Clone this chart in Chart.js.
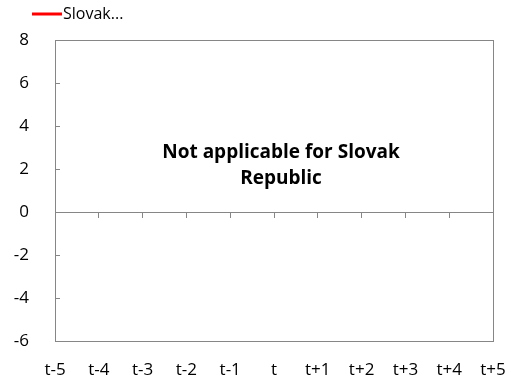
<!DOCTYPE html>
<html>
<head>
<meta charset="utf-8">
<script src="https://cdn.jsdelivr.net/npm/chart.js@4/dist/chart.umd.min.js"></script>
<style>
  html, body { margin: 0; padding: 0; background: #fff; }
  #wrap { width: 510px; height: 379px; }
</style>
</head>
<body>
<div id="wrap"><canvas id="chart" width="510" height="379"></canvas></div>
<script>
var periods = ['t-5', 't-4', 't-3', 't-2', 't-1', 't', 't+1', 't+2', 't+3', 't+4', 't+5'];
// no data for this country
var slovakValues = [null, null, null, null, null, null, null, null, null, null, null];
var seriesName = 'Slovak...';
var noteLines = ['Not applicable for Slovak', 'Republic'];
var yMin = -6, yMax = 8, yStep = 2;

var axisColor = '#868686';
var fontFamily = "'Open Sans', 'Noto Sans', sans-serif";

// box round the plot, inner y ticks, the note and the legend entry
var framePlugin = {
    id: 'frame',
    afterDraw: function (chart) {
        var a = chart.chartArea;
        var ctx = chart.ctx;
        var y = chart.scales.y;
        ctx.save();
        ctx.strokeStyle = axisColor;
        ctx.lineWidth = 1;
        ctx.strokeRect(Math.round(a.left) + 0.5, Math.round(a.top) + 0.5,
            Math.round(a.right - a.left), Math.round(a.bottom - a.top));

        ctx.beginPath();
        y.ticks.forEach(function (t, i) {
            var py = Math.round(y.getPixelForTick(i)) + 0.5;
            ctx.moveTo(a.left, py);
            ctx.lineTo(a.left + 5, py);
        });
        ctx.stroke();

        ctx.fillStyle = '#000';
        ctx.font = 'bold 19px ' + fontFamily;
        ctx.textAlign = 'center';
        ctx.textBaseline = 'middle';
        var cx = (a.left + a.right) / 2 + 7;
        var cy = y.getPixelForValue(2.75);
        noteLines.forEach(function (line, i) {
            ctx.fillText(line, cx, cy + i * 26);
        });

        // legend
        var ds = chart.data.datasets[0];
        ctx.strokeStyle = ds.borderColor;
        ctx.lineWidth = 3;
        ctx.beginPath();
        ctx.moveTo(32, 14);
        ctx.lineTo(62, 14);
        ctx.stroke();
        ctx.font = '16px ' + fontFamily;
        ctx.textAlign = 'left';
        ctx.fillText(ds.label, 63, 14);
        ctx.restore();
    }
};

var ctx = document.getElementById('chart').getContext('2d');
var chart = new Chart(ctx, {
    type: 'line',
    data: {
        labels: periods,
        datasets: [{
            label: seriesName,
            data: slovakValues,
            borderColor: '#ff0000',
            backgroundColor: '#ff0000',
            borderWidth: 3,
            pointRadius: 0
        }]
    },
    options: {
        responsive: false,
        animation: false,
        layout: { padding: { left: 0, right: 17, top: 40, bottom: 0 } },
        plugins: {
            legend: { display: false },
            tooltip: { enabled: false }
        },
        scales: {
            x: {
                type: 'category',
                offset: false,
                grid: { display: false },
                border: { display: false },
                ticks: {
                    color: '#000',
                    padding: 11,
                    maxRotation: 0,
                    autoSkip: false,
                    font: { family: fontFamily, size: 17 }
                },
                afterFit: function (scale) {
                    scale.height = 38;
                    scale.paddingLeft = 0;
                    scale.paddingRight = 0;
                }
            },
            // zero line with the small tick marks
            xZero: {
                type: 'category',
                labels: periods,
                offset: false,
                position: { y: 0 },
                grid: { drawOnChartArea: false, drawTicks: true, tickLength: 5, color: axisColor },
                border: { display: true, color: axisColor },
                ticks: { display: false }
            },
            y: {
                min: yMin,
                max: yMax,
                grid: { display: false },
                border: { display: true, color: axisColor },
                ticks: {
                    stepSize: yStep,
                    color: '#000',
                    padding: 18,
                    font: { family: fontFamily, size: 17 }
                },
                afterFit: function (scale) {
                    scale.width = 55;
                    scale.paddingTop = 0;
                    scale.paddingBottom = 0;
                }
            }
        }
    },
    plugins: [framePlugin]
});
</script>
</body>
</html>
